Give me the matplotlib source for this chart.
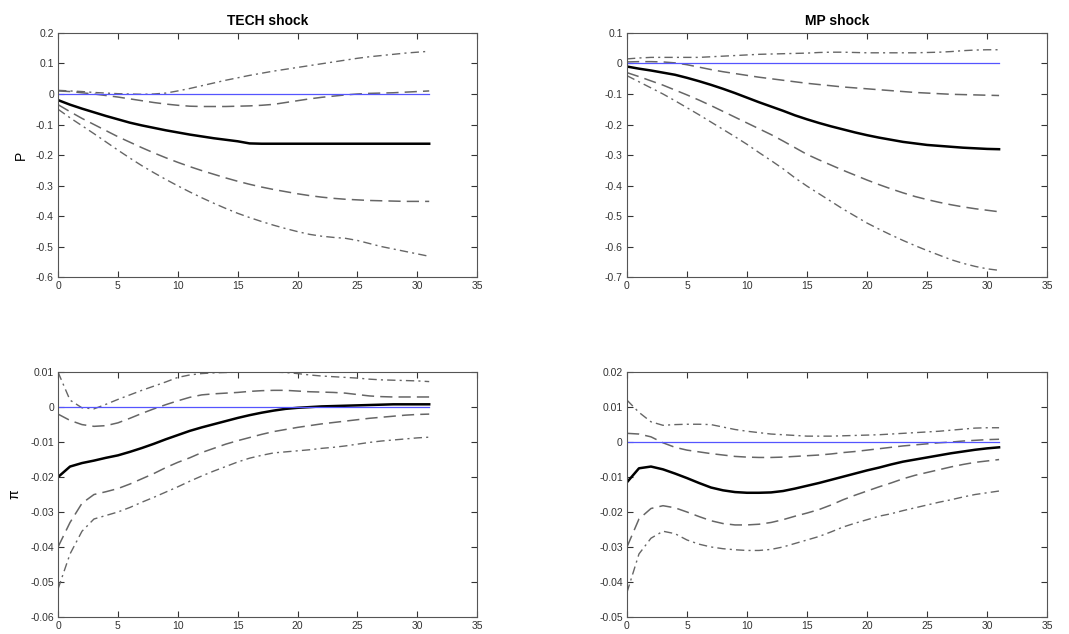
import numpy as np
import matplotlib
matplotlib.use("Agg")
import matplotlib.pyplot as plt
from matplotlib.ticker import FuncFormatter

plt.rcParams['font.family'] = ['Liberation Sans', 'DejaVu Sans']
plt.rcParams['axes.unicode_minus'] = False

# horizon
h = np.arange(32)

# TECH shock, P
p_tech_med = [-0.020,-0.035,-0.048,-0.060,-0.072,-0.083,-0.094,-0.103,-0.111,-0.119,-0.126,-0.133,-0.139,-0.145,-0.150,-0.155,
              -0.162,-0.163,-0.163,-0.163,-0.163,-0.163,-0.163,-0.163,-0.163,-0.163,-0.163,-0.163,-0.163,-0.163,-0.163,-0.163]
p_tech_up68 = [0.010,0.008,0.004,0.000,-0.005,-0.010,-0.016,-0.022,-0.028,-0.033,-0.037,-0.040,-0.041,-0.041,-0.041,-0.040,
               -0.039,-0.037,-0.034,-0.028,-0.022,-0.016,-0.011,-0.007,-0.003,0.000,0.002,0.003,0.004,0.006,0.008,0.010]
p_tech_up90 = [0.012,0.010,0.008,0.005,0.003,0.001,0.000,-0.001,0.000,0.003,0.010,0.018,0.027,0.036,0.045,0.053,
               0.061,0.068,0.075,0.081,0.087,0.093,0.099,0.105,0.111,0.117,0.122,0.126,0.130,0.134,0.137,0.140]
p_tech_lo68 = [-0.035,-0.058,-0.080,-0.100,-0.120,-0.140,-0.158,-0.176,-0.193,-0.209,-0.224,-0.238,-0.251,-0.263,-0.275,-0.286,
               -0.296,-0.305,-0.313,-0.320,-0.327,-0.333,-0.338,-0.342,-0.345,-0.347,-0.349,-0.350,-0.351,-0.352,-0.352,-0.352]
p_tech_lo90 = [-0.050,-0.078,-0.104,-0.130,-0.157,-0.184,-0.210,-0.235,-0.258,-0.280,-0.301,-0.321,-0.340,-0.358,-0.375,-0.391,
               -0.405,-0.418,-0.430,-0.441,-0.451,-0.460,-0.466,-0.470,-0.473,-0.480,-0.490,-0.500,-0.508,-0.516,-0.524,-0.532]

# MP shock, P
p_mp_med = [-0.010,-0.017,-0.023,-0.030,-0.037,-0.047,-0.058,-0.070,-0.083,-0.097,-0.112,-0.127,-0.141,-0.155,-0.170,-0.183,
            -0.195,-0.206,-0.216,-0.226,-0.235,-0.243,-0.250,-0.257,-0.262,-0.267,-0.270,-0.273,-0.276,-0.278,-0.280,-0.281]
p_mp_up68 = [0.005,0.006,0.006,0.005,0.002,-0.004,-0.012,-0.020,-0.027,-0.033,-0.039,-0.045,-0.050,-0.055,-0.060,-0.065,
             -0.069,-0.073,-0.077,-0.080,-0.083,-0.086,-0.089,-0.092,-0.095,-0.097,-0.099,-0.101,-0.102,-0.103,-0.104,-0.105]
p_mp_up90 = [0.015,0.018,0.020,0.020,0.020,0.020,0.020,0.022,0.024,0.026,0.028,0.030,0.031,0.032,0.033,0.034,
             0.036,0.037,0.037,0.036,0.035,0.035,0.035,0.035,0.035,0.036,0.037,0.039,0.042,0.044,0.045,0.045]
p_mp_lo68 = [-0.030,-0.043,-0.057,-0.071,-0.087,-0.103,-0.120,-0.138,-0.157,-0.176,-0.195,-0.214,-0.233,-0.254,-0.276,-0.298,
             -0.316,-0.333,-0.350,-0.366,-0.382,-0.397,-0.411,-0.424,-0.436,-0.446,-0.455,-0.463,-0.470,-0.476,-0.481,-0.486]
p_mp_lo90 = [-0.040,-0.060,-0.080,-0.100,-0.122,-0.145,-0.168,-0.192,-0.216,-0.240,-0.265,-0.292,-0.318,-0.345,-0.375,-0.402,
             -0.427,-0.452,-0.477,-0.500,-0.523,-0.543,-0.562,-0.580,-0.597,-0.613,-0.628,-0.643,-0.655,-0.665,-0.673,-0.678]

# TECH shock, inflation
pi_tech_med = [-0.0200,-0.0170,-0.0160,-0.0153,-0.0145,-0.0138,-0.0128,-0.0117,-0.0105,-0.0092,-0.0080,-0.0068,-0.0058,-0.0049,-0.0040,-0.0031,
               -0.0023,-0.0016,-0.0010,-0.0005,-0.0002,0.0000,0.0002,0.0003,0.0004,0.0005,0.0006,0.0007,0.0008,0.0008,0.0008,0.0008]
pi_tech_up68 = [-0.0020,-0.0038,-0.0050,-0.0055,-0.0053,-0.0045,-0.0032,-0.0018,-0.0005,0.0007,0.0018,0.0028,0.0035,0.0038,0.0040,0.0042,
                0.0045,0.0047,0.0048,0.0048,0.0046,0.0044,0.0043,0.0042,0.0040,0.0036,0.0032,0.0030,0.0029,0.0029,0.0029,0.0029]
pi_tech_up90 = [0.0100,0.0020,-0.0002,-0.0005,0.0008,0.0022,0.0035,0.0048,0.0060,0.0072,0.0085,0.0092,0.0096,0.0098,0.0099,0.0100,
                0.0100,0.0100,0.0100,0.0099,0.0096,0.0092,0.0089,0.0087,0.0085,0.0083,0.0080,0.0078,0.0077,0.0076,0.0075,0.0073]
pi_tech_lo68 = [-0.0400,-0.0330,-0.0275,-0.0250,-0.0242,-0.0233,-0.0220,-0.0205,-0.0190,-0.0173,-0.0158,-0.0145,-0.0130,-0.0118,-0.0106,-0.0096,
                -0.0087,-0.0078,-0.0070,-0.0064,-0.0058,-0.0053,-0.0048,-0.0044,-0.0040,-0.0036,-0.0032,-0.0029,-0.0026,-0.0023,-0.0021,-0.0020]
pi_tech_lo90 = [-0.0520,-0.0420,-0.0355,-0.0320,-0.0310,-0.0300,-0.0287,-0.0272,-0.0258,-0.0243,-0.0228,-0.0212,-0.0197,-0.0183,-0.0170,-0.0157,
                -0.0146,-0.0138,-0.0131,-0.0128,-0.0125,-0.0122,-0.0118,-0.0115,-0.0111,-0.0106,-0.0101,-0.0097,-0.0094,-0.0091,-0.0088,-0.0086]

# MP shock, inflation
pi_mp_med = [-0.0115,-0.0075,-0.0070,-0.0078,-0.0090,-0.0103,-0.0117,-0.0130,-0.0138,-0.0143,-0.0145,-0.0145,-0.0144,-0.0140,-0.0133,-0.0125,
             -0.0117,-0.0108,-0.0099,-0.0090,-0.0081,-0.0073,-0.0064,-0.0056,-0.0050,-0.0044,-0.0038,-0.0032,-0.0027,-0.0022,-0.0018,-0.0015]
pi_mp_up68 = [0.0025,0.0023,0.0015,-0.0002,-0.0015,-0.0023,-0.0028,-0.0033,-0.0037,-0.0041,-0.0043,-0.0044,-0.0044,-0.0043,-0.0041,-0.0039,
              -0.0037,-0.0034,-0.0030,-0.0027,-0.0023,-0.0019,-0.0015,-0.0011,-0.0008,-0.0005,-0.0002,0.0000,0.0003,0.0005,0.0007,0.0008]
pi_mp_up90 = [0.0120,0.0085,0.0058,0.0048,0.0050,0.0051,0.0051,0.0050,0.0043,0.0036,0.0031,0.0027,0.0023,0.0021,0.0019,0.0017,
              0.0017,0.0017,0.0018,0.0019,0.0020,0.0021,0.0023,0.0025,0.0027,0.0029,0.0031,0.0034,0.0037,0.0040,0.0041,0.0041]
pi_mp_lo68 = [-0.0300,-0.0220,-0.0190,-0.0182,-0.0188,-0.0200,-0.0213,-0.0225,-0.0233,-0.0237,-0.0237,-0.0235,-0.0230,-0.0222,-0.0212,-0.0203,
              -0.0193,-0.0180,-0.0165,-0.0152,-0.0140,-0.0128,-0.0117,-0.0105,-0.0095,-0.0087,-0.0079,-0.0071,-0.0064,-0.0058,-0.0054,-0.0050]
pi_mp_lo90 = [-0.0430,-0.0320,-0.0275,-0.0255,-0.0262,-0.0280,-0.0292,-0.0300,-0.0305,-0.0308,-0.0310,-0.0310,-0.0307,-0.0300,-0.0290,-0.0280,
              -0.0270,-0.0257,-0.0243,-0.0232,-0.0222,-0.0212,-0.0205,-0.0196,-0.0188,-0.0180,-0.0172,-0.0165,-0.0157,-0.0150,-0.0145,-0.0140]

panels = [
    # (position, series, ylim, ystep, title, ylabel)
    ([0.0543, 0.563, 0.392, 0.385], (p_tech_med, p_tech_up68, p_tech_lo68, p_tech_up90, p_tech_lo90), (-0.6, 0.2), 0.1, 'TECH shock', 'P'),
    ([0.5865, 0.563, 0.393, 0.385], (p_mp_med, p_mp_up68, p_mp_lo68, p_mp_up90, p_mp_lo90), (-0.7, 0.1), 0.1, 'MP shock', None),
    ([0.0543, 0.027, 0.392, 0.386], (pi_tech_med, pi_tech_up68, pi_tech_lo68, pi_tech_up90, pi_tech_lo90), (-0.06, 0.01), 0.01, None, 'π'),
    ([0.5865, 0.027, 0.393, 0.386], (pi_mp_med, pi_mp_up68, pi_mp_lo68, pi_mp_up90, pi_mp_lo90), (-0.05, 0.02), 0.01, None, None),
]


def fmt(v, p):
    v = round(v, 4)
    if abs(v) < 1e-9:
        return '0'
    return '%g' % v


fig = plt.figure(figsize=(10.69, 6.34), dpi=100)
band_col = '#666666'

for pos, (med, up68, lo68, up90, lo90), ylim, step, title, ylab in panels:
    ax = fig.add_axes(pos)
    ax.plot(h, up90, color=band_col, lw=1.0, dashes=(6, 3, 1.5, 3))
    ax.plot(h, lo90, color=band_col, lw=1.0, dashes=(6, 3, 1.5, 3))
    ax.plot(h, up68, color=band_col, lw=1.1, dashes=(8, 4))
    ax.plot(h, lo68, color=band_col, lw=1.1, dashes=(8, 4))
    ax.plot(h, med, color='black', lw=1.8)
    ax.plot([h[0], h[-1]], [0, 0], color='#5555ff', lw=0.9)

    ax.set_xlim(0, 35)
    ax.set_ylim(*ylim)
    ax.set_xticks(np.arange(0, 36, 5))
    ax.set_yticks(np.round(np.arange(ylim[0], ylim[1] + step / 2, step), 4))
    ax.yaxis.set_major_formatter(FuncFormatter(fmt))
    ax.tick_params(direction='in', top=True, right=True, labelsize=7.5,
                   length=4, width=0.8, colors='#333333', pad=3)
    for s in ax.spines.values():
        s.set_linewidth(0.8)
        s.set_color('#555555')
    if title:
        ax.set_title(title, fontsize=10, fontweight='bold', pad=6)
    if ylab:
        ax.set_ylabel(ylab, fontsize=10, labelpad=6)

plt.savefig('out.png', dpi=100)
